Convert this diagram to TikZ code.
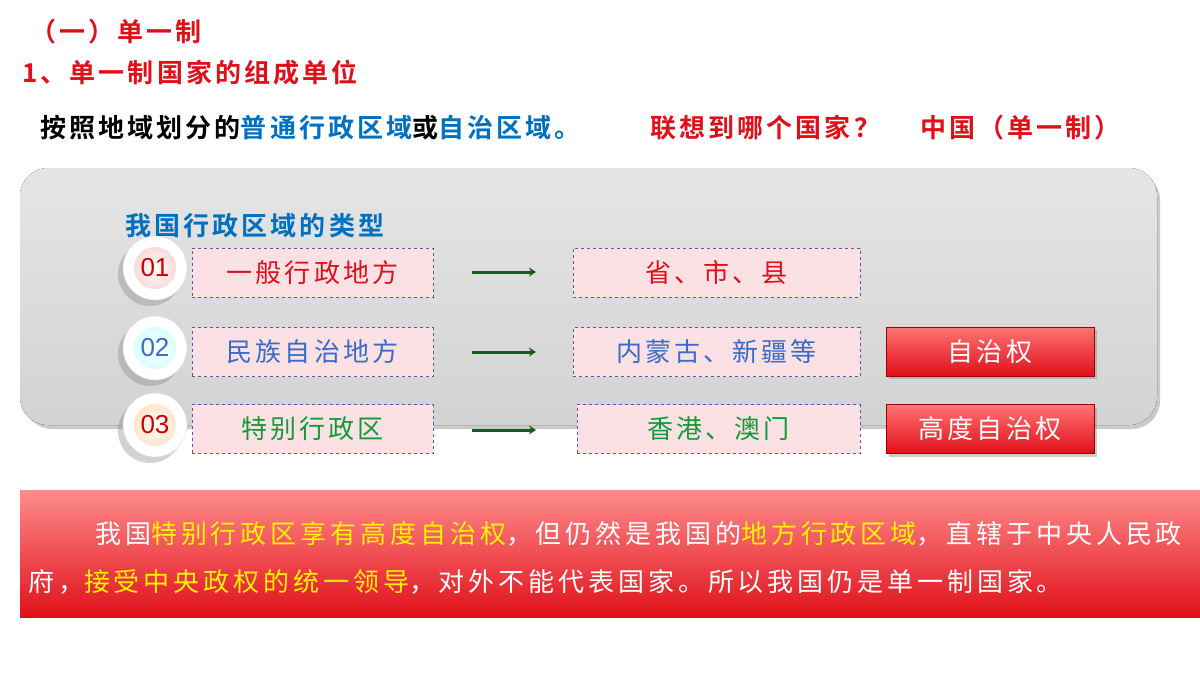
\documentclass[tikz,border=0pt]{standalone}
\usepackage{fontspec}
\newfontfamily\cjk[LetterSpace=12,BoldFont={Noto Sans CJK SC Bold}]{Noto Sans CJK SC}
\newfontfamily\cjkw[LetterSpace=15]{Noto Sans CJK SC}
\newfontfamily\numf{Liberation Sans}
\usetikzlibrary{shadows,arrows.meta}
\definecolor{tred}{HTML}{E0101A}
\definecolor{tblue}{HTML}{0070C0}
\definecolor{bblue}{HTML}{3A6BC8}
\definecolor{tgreen}{HTML}{119A3A}
\definecolor{agreen}{HTML}{1E5A1E}
\definecolor{pinkbox}{HTML}{FBE1E4}
\definecolor{tyellow}{HTML}{FFF200}
\begin{document}
\begin{tikzpicture}[x=1pt,y=-1pt,
  txt/.style={font=\cjk\fontsize{26}{30}\selectfont,inner sep=0,anchor=west},
  lbox/.style={draw=gray!70!blue,dashed,fill=pinkbox,minimum height=49pt,inner sep=0,font=\cjk\fontsize{26}{30}\selectfont},
  rbox/.style={fill=tred,draw=red!60!black,minimum height=49pt,minimum width=208pt,inner sep=0,text=white,font=\cjk\fontsize{26}{30}\selectfont,drop shadow={shadow xshift=3pt,shadow yshift=-3pt,opacity=.4},top color=red!55!white,bottom color=tred},
  arr/.style={agreen,line width=3pt,-{Stealth[length=7pt,width=9pt]}},
  badge/.style={circle,minimum size=64pt,fill=white,draw=gray!30,drop shadow={shadow xshift=-5pt,shadow yshift=-6pt,opacity=.35}},
  inner/.style={circle,minimum size=42pt,inner sep=0,font=\numf\fontsize{26}{26}\selectfont}]
\useasboundingbox (0,0) rectangle (1200,675);
\fill[white] (0,0) rectangle (1200,675);
\node[txt,text=tred,font=\cjk\bfseries\fontsize{26}{30}\selectfont] (t1) at (30,32) {（一）单一制};
\node[txt,text=tred,font=\cjk\bfseries\fontsize{26}{30}\selectfont] (t2) at (22,73) {1、单一制国家的组成单位};
\node[txt,font=\cjk\bfseries\fontsize{26}{30}\selectfont] (t3) at (40,128) {按照地域划分的\textcolor{tblue}{普通行政区域}或\textcolor{tblue}{自治区域。}};
\node[txt,text=tred,font=\cjk\bfseries\fontsize{26}{30}\selectfont] (t4) at (650,128) {联想到哪个国家？};
\node[txt,text=tred,font=\cjk\bfseries\fontsize{26}{30}\selectfont] (t5) at (920,128) {中国（单一制）};
\fill[gray!45,rounded corners=28pt,opacity=.9] (24,172) rectangle (1160,429);
\fill[top color=gray!20,bottom color=gray!35,rounded corners=28pt] (20,168) rectangle (1157,425);
\node[txt,text=tblue,font=\cjk\bfseries\fontsize{26}{30}\selectfont] (h) at (125,226) {我国行政区域的类型};
\foreach \y/\n/\c/\tc in {268/01/pink!60/red!80!black,348/02/cyan!15/bblue,425/03/orange!20/red!80!black}{
  \node[badge] (b\n) at (155,\y) {};
  \node[inner,inner color=white,outer color=\c,text=\tc] (i\n) at (155,\y) {\n};
}
\node[lbox,minimum width=241pt,text=tred] (l1) at (312.5,272.5) {一般行政地方};
\node[lbox,minimum width=241pt,text=bblue] (l2) at (312.5,352) {民族自治地方};
\node[lbox,minimum width=241pt,text=tgreen] (l3) at (312.5,429) {特别行政区};
\node[lbox,minimum width=287pt,text=tred] (r1) at (716.5,272.5) {省、市、县};
\node[lbox,minimum width=287pt,text=bblue] (r2) at (716.5,352) {内蒙古、新疆等};
\node[lbox,minimum width=283pt,text=tgreen] (r3) at (718.5,429) {香港、澳门};
\coordinate (a1s) at (472,272); \coordinate (a1e) at (536,272);
\coordinate (a2s) at (472,352); \coordinate (a2e) at (536,352);
\coordinate (a3s) at (472,430); \coordinate (a3e) at (536,430);
\draw[arr] (a1s) -- (a1e);
\draw[arr] (a2s) -- (a2e);
\draw[arr] (a3s) -- (a3e);
\node[rbox] (z1) at (990,351.5) {自治权};
\node[rbox] (z2) at (990,429) {高度自治权};
\fill[top color=red!45!white,bottom color=tred] (20,490) rectangle (1210,617);
\node[txt,text=white,font=\cjkw\fontsize{26}{30}\selectfont] (p1) at (95,534) {我国\textcolor{tyellow}{特别行政区享有高度自治权}，但仍然是我国的\textcolor{tyellow}{地方行政区域}，直辖于中央人民政};
\node[txt,text=white,font=\cjkw\fontsize{26}{30}\selectfont] (p2) at (28,582) {府，\textcolor{tyellow}{接受中央政权的统一领导}，对外不能代表国家。所以我国仍是单一制国家。};
\end{tikzpicture}
\end{document}
